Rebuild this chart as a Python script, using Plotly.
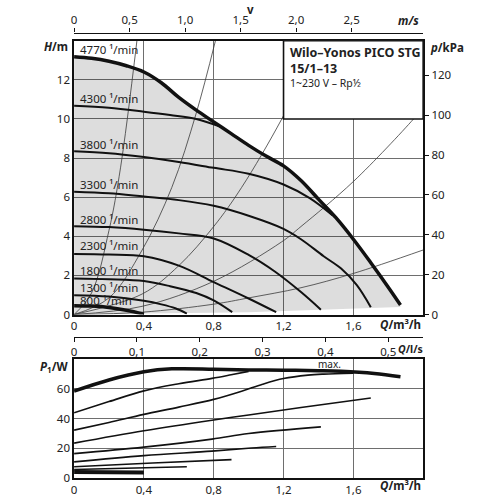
import plotly.graph_objects as go

# ---------------- DATA ----------------
# Pump H(Q) curves (Q in m3/h, H in m)
q_max = [0, 0.1, 0.2, 0.3, 0.4, 0.5, 0.6, 0.7, 0.8, 0.9, 1.0, 1.1, 1.2, 1.3, 1.4, 1.5, 1.6, 1.7, 1.8, 1.87]
h_max = [13.18, 13.1, 12.95, 12.72, 12.4, 11.85, 11.1, 10.45, 9.85, 9.25, 8.65, 8.1, 7.6, 6.85, 5.9, 4.95, 3.85, 2.65, 1.4, 0.49]

q_4300 = [0, 0.2, 0.4, 0.55, 0.7, 0.84]
h_4300 = [10.67, 10.57, 10.37, 10.2, 10.0, 9.6]
q_3800 = [0, 0.2, 0.4, 0.6, 0.8, 1.0, 1.2, 1.35, 1.48]
h_3800 = [8.35, 8.25, 8.05, 7.8, 7.5, 7.2, 6.65, 5.95, 5.08]
q_3300 = [0, 0.2, 0.4, 0.6, 0.8, 1.0, 1.2, 1.3, 1.43, 1.53, 1.62, 1.70]
h_3300 = [6.28, 6.2, 6.03, 5.85, 5.56, 5.05, 4.38, 3.85, 2.98, 2.35, 1.5, 0.37]
q_2800 = [0, 0.2, 0.4, 0.6, 0.8, 1.0, 1.15, 1.3, 1.414]
h_2800 = [4.52, 4.47, 4.34, 4.15, 3.89, 3.05, 2.2, 1.15, 0.25]
q_2300 = [0, 0.2, 0.4, 0.6, 0.8, 1.0, 1.158]
h_2300 = [3.1, 3.07, 2.98, 2.5, 1.66, 0.82, 0.12]
q_1800 = [0, 0.2, 0.4, 0.55, 0.7, 0.8, 0.906]
h_1800 = [1.84, 1.8, 1.71, 1.45, 1.1, 0.72, 0.12]
q_1300 = [0, 0.2, 0.4, 0.5, 0.58, 0.646]
h_1300 = [0.99, 0.92, 0.70, 0.52, 0.32, 0.05]
q_800 = [0, 0.1, 0.2, 0.3, 0.4]
h_800 = [0.45, 0.43, 0.36, 0.22, 0.02]

# lower edge of the grey operating field
q_floor = [1.87, 1.0, 0]
h_floor = [0.38, 0.12, 0]

# system curves (thin lines)
sys_q = [
    [0, 0.1, 0.2, 0.266, 0.36],
    [0, 0.2, 0.39, 0.56, 0.7, 0.81],
    [0, 0.39, 0.6, 0.8, 0.96, 1.19, 1.414],
    [0, 0.39, 0.8, 1.19, 1.3, 1.6, 1.945, 2.0],
    [0, 0.39, 0.8, 1.0, 1.3, 1.6, 2.0],
]
sys_h = [
    [0, 1.1, 4.3, 7.5, 14],
    [0, 0.85, 3.3, 6.5, 10.3, 14],
    [0, 1.05, 2.5, 4.5, 6.5, 10.0, 14],
    [0, 0.42, 1.7, 3.72, 4.5, 6.8, 10.0, 10.6],
    [0, 0.12, 0.53, 0.85, 1.37, 2.1, 3.3],
]

speed_labels = ["4770", "4300", "3800", "3300", "2800", "2300", "1800", "1300", "800"]
speed_label_h = [13.57, 11.06, 8.69, 6.63, 4.87, 3.52, 2.26, 1.36, 0.70]

# Power curves P1(Q) in W
p_q_max = [0, 0.2, 0.4, 0.56, 0.8, 1.0, 1.2, 1.4, 1.53, 1.72, 1.87]
p_max = [58.5, 66, 71.5, 73.5, 73.3, 72.8, 72.6, 72.3, 71.9, 70.4, 68.2]
p_q_4300 = [0, 0.2, 0.4, 0.6, 0.79, 0.9, 1.0]
p_4300 = [44, 51.5, 58.7, 63.5, 67.1, 69.5, 71.8]
p_q_3800 = [0, 0.2, 0.4, 0.6, 0.8, 0.96, 1.08, 1.2, 1.34, 1.43, 1.6]
p_3800 = [32.3, 37.5, 42.9, 47.8, 53.0, 58.5, 63.2, 67.0, 69.3, 70.0, 70.6]
p_q_3300 = [0, 0.4, 0.79, 1.0, 1.3, 1.7]
p_3300 = [23.6, 31.9, 39.0, 42.5, 47.5, 53.9]
p_q_2800 = [0, 0.4, 0.79, 1.0, 1.414]
p_2800 = [16.5, 20.9, 26.3, 30.0, 34.5]
p_q_2300 = [0, 0.4, 0.79, 1.016, 1.158]
p_2300 = [11.0, 15.2, 18.2, 20.3, 21.3]
p_q_1800 = [0, 0.45, 0.902]
p_1800 = [7.7, 10.2, 12.5]
p_q_1300 = [0, 0.646]
p_1300 = [5.9, 7.7]
p_q_800 = [0, 0.4]
p_800 = [4.2, 3.9]

q_ticks = [0, 0.4, 0.8, 1.2, 1.6]
q_ticktext = ["0", "0,4", "0,8", "1,2", "1,6"]
v_ticks = [0, 0.5, 1.0, 1.5, 2.0, 2.5]
v_ticktext = ["0", "0,5", "1,0", "1,5", "2,0", "2,5"]
ls_ticks = [0, 0.1, 0.2, 0.3, 0.4, 0.5]
ls_ticktext = ["0", "0,1", "0,2", "0,3", "0,4", "0,5"]
h_ticks = [0, 2, 4, 6, 8, 10, 12]
kpa_ticks = [0, 20, 40, 60, 80, 100, 120]
p_ticks = [0, 20, 40, 60]

Q_MAX = 2.0
V_MAX = 3.1438      # m/s at 2 m3/h in DN15
LS_MAX = 2.0 / 3.6
H_MAX = 14
KPA_MAX = 14 * 9.81
P_MAX = 80

# ---------------- FIGURE ----------------
FONT = "Noto Sans"
def px(x): return x / 500
def py(y): return 1 - y / 500

fig = go.Figure()

# grey operating field
fig.add_trace(go.Scatter(
    x=q_max + q_floor, y=h_max + h_floor, fill="toself", mode="lines",
    line=dict(width=0), fillcolor="rgba(0,0,0,0.135)", hoverinfo="skip", showlegend=False,
    xaxis="x", yaxis="y"))

# system curves
for qs, hs in zip(sys_q, sys_h):
    fig.add_trace(go.Scatter(x=qs, y=hs, mode="lines", line=dict(color="#3a3a3a", width=0.8, shape="spline"),
                             hoverinfo="skip", showlegend=False, xaxis="x", yaxis="y"))

# speed curves
for qs, hs in [(q_4300, h_4300), (q_3800, h_3800), (q_3300, h_3300), (q_2800, h_2800),
               (q_2300, h_2300), (q_1800, h_1800), (q_1300, h_1300)]:
    fig.add_trace(go.Scatter(x=qs, y=hs, mode="lines", line=dict(color="#111", width=2, shape="spline"),
                             hoverinfo="skip", showlegend=False, xaxis="x", yaxis="y"))
fig.add_trace(go.Scatter(x=q_800, y=h_800, mode="lines", line=dict(color="#111", width=3.5, shape="spline"),
                         hoverinfo="skip", showlegend=False, xaxis="x", yaxis="y"))
fig.add_trace(go.Scatter(x=q_max, y=h_max, mode="lines", line=dict(color="#111", width=3.5, shape="spline"),
                         hoverinfo="skip", showlegend=False, xaxis="x", yaxis="y"))

# dummy traces for secondary axes
fig.add_trace(go.Scatter(x=[0], y=[0], mode="none", hoverinfo="skip", showlegend=False, xaxis="x2", yaxis="y"))
fig.add_trace(go.Scatter(x=[0], y=[0], mode="none", hoverinfo="skip", showlegend=False, xaxis="x", yaxis="y2"))
fig.add_trace(go.Scatter(x=[0], y=[0], mode="none", hoverinfo="skip", showlegend=False, xaxis="x4", yaxis="y3"))

# power curves
for qs, ps in [(p_q_4300, p_4300), (p_q_3800, p_3800), (p_q_3300, p_3300), (p_q_2800, p_2800),
               (p_q_2300, p_2300), (p_q_1800, p_1800), (p_q_1300, p_1300)]:
    fig.add_trace(go.Scatter(x=qs, y=ps, mode="lines", line=dict(color="#111", width=1.6, shape="spline"),
                             hoverinfo="skip", showlegend=False, xaxis="x3", yaxis="y3"))
fig.add_trace(go.Scatter(x=p_q_800, y=p_800, mode="lines", line=dict(color="#111", width=4),
                         hoverinfo="skip", showlegend=False, xaxis="x3", yaxis="y3"))
fig.add_trace(go.Scatter(x=p_q_max, y=p_max, mode="lines", line=dict(color="#111", width=3.5, shape="spline"),
                         hoverinfo="skip", showlegend=False, xaxis="x3", yaxis="y3"))

xdom = [px(71.5), px(422.7)]
tickfont = dict(family=FONT, size=11.5, color="#222")
gridc = "#6e6e6e"

fig.update_layout(
    width=500, height=500, margin=dict(l=0, r=0, t=0, b=0),
    paper_bgcolor="white", plot_bgcolor="white", showlegend=False,
    font=dict(family=FONT, color="#222"),
    xaxis=dict(domain=xdom, range=[0, Q_MAX], anchor="y", tickvals=q_ticks, ticktext=q_ticktext,
               showgrid=True, gridcolor=gridc, gridwidth=1, zeroline=False, showline=True, linecolor="#111",
               linewidth=1.6, mirror=True, ticks="", tickfont=tickfont),
    yaxis=dict(domain=[py(319), py(41.3)], range=[0, H_MAX], anchor="x", tickvals=h_ticks,
               showgrid=True, gridcolor=gridc, gridwidth=1, zeroline=False, showline=True, linecolor="#111",
               linewidth=1.6, mirror=True, ticks="", tickfont=tickfont),
    xaxis2=dict(domain=xdom, range=[0, V_MAX], overlaying="x", anchor="free", position=py(33), side="top",
                tickvals=v_ticks, ticktext=v_ticktext, showgrid=False, zeroline=False, showline=True,
                linecolor="#111", linewidth=1.4, ticks="outside", ticklen=4, tickcolor="#111", tickfont=tickfont),
    yaxis2=dict(range=[0, KPA_MAX], overlaying="y", side="right", anchor="x", tickvals=kpa_ticks,
                showgrid=False, zeroline=False, showline=False, ticks="outside", ticklen=5, tickcolor="#111",
                tickfont=tickfont),
    xaxis3=dict(domain=xdom, range=[0, Q_MAX], anchor="y3", tickvals=q_ticks, ticktext=q_ticktext,
                showgrid=True, gridcolor=gridc, gridwidth=1, zeroline=False, showline=True, linecolor="#111",
                linewidth=1.6, mirror=True, ticks="", tickfont=tickfont),
    yaxis3=dict(domain=[py(485), py(364.3)], range=[0, P_MAX], anchor="x3", tickvals=p_ticks,
                showgrid=True, gridcolor=gridc, gridwidth=1, zeroline=False, showline=True, linecolor="#111",
                linewidth=1.6, mirror=True, ticks="", tickfont=tickfont),
    xaxis4=dict(domain=xdom, range=[0, LS_MAX], overlaying="x3", anchor="free", position=py(341.7), side="bottom",
                tickvals=ls_ticks, ticktext=ls_ticktext, showgrid=False, zeroline=False, showline=True,
                linecolor="#111", linewidth=1.4, ticks="outside", ticklen=4, tickcolor="#111", tickfont=tickfont),
)

# info box
fig.add_shape(type="rect", xref="x", yref="y", x0=1.2, x1=Q_MAX, y0=10.0, y1=H_MAX,
              fillcolor="white", line=dict(color="#111", width=1.6), layer="above")

ann = []
def A(text, x, y, xa="left", size=11.5, xref="paper", yref="paper", ya="middle"):
    ann.append(dict(text=text, x=x, y=y, xref=xref, yref=yref, xanchor=xa, yanchor=ya, showarrow=False,
                    font=dict(family=FONT, size=size, color="#222")))

for lab, hy in zip(speed_labels, speed_label_h):
    A(lab + " ¹/min", 0.025, hy, xref="x", yref="y", size=11.5)

A("<b>Wilo–Yonos PICO STG</b>", px(287), py(53), size=12.5)
A("<b>15/1–13</b>", px(287), py(69), size=12.5)
A("1~230 V – Rp½", px(287), py(84), size=10.5)

A("<b><i>H</i>/m</b>", px(67), py(47), xa="right", size=11.5)
A("<b><i>p</i>/kPa</b>", px(428), py(48), xa="left", size=11.5)
A("<b>v</b>", px(249), py(9.5), xa="center", size=11.5)
A("<b><i>m/s</i></b>", px(421), py(21), xa="right", size=11.5)
A("<b><i>Q</i>/m³/h</b>", px(423), py(329), xa="right", size=11.5)
A("<b><i>P</i><sub>1</sub>/W</b>", px(67), py(372), xa="right", size=11.5)
A("<b><i>Q</i>/l/s</b>", px(425), py(354), xa="right", size=10.5)
A("<b><i>Q</i>/m³/h</b>", px(423), py(492), xa="right", size=11.5)
A("max.", px(328), py(369), xa="center", size=10)

fig.update_layout(annotations=ann)

fig.write_html("out.html", config={"displayModeBar": False},
               post_script="document.body.style.margin='0';document.body.style.padding='0';"
                           "document.documentElement.style.overflow='hidden';")
